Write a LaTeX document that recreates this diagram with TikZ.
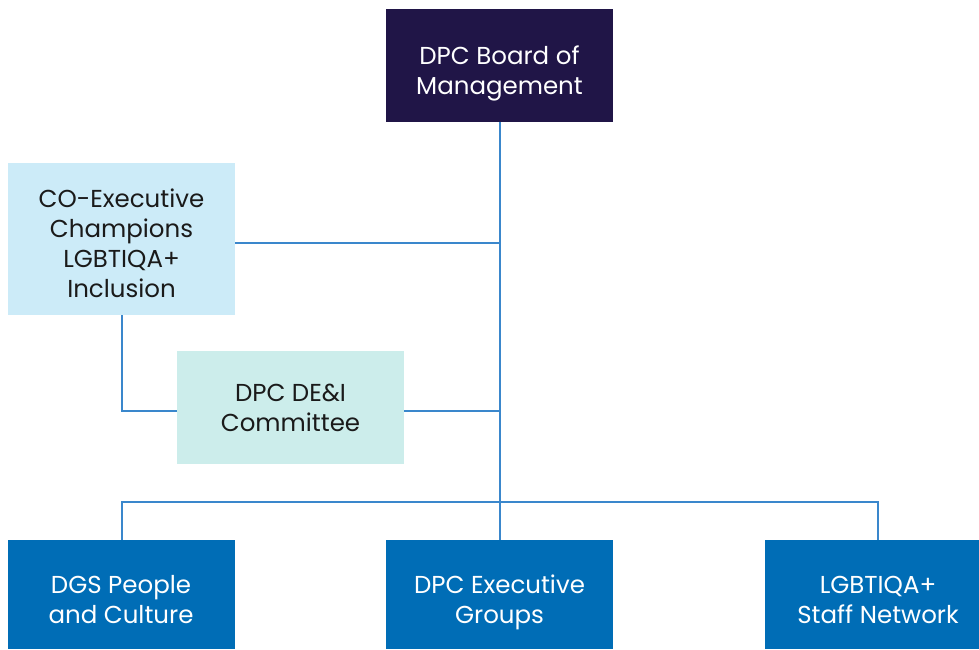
\documentclass[tikz,border=0pt]{standalone}
\usepackage{fontspec}
\setmainfont{Poppins}
\definecolor{navy}{HTML}{201547}
\definecolor{vicblue}{HTML}{006DB6}
\definecolor{skyfill}{HTML}{CCEBF8}
\definecolor{mintfill}{HTML}{CCEDEB}
\definecolor{linkblue}{HTML}{3A87CC}
\definecolor{ink}{HTML}{1A1A1A}
% invisible struts that fix how high a text block sits in its box
\newcommand\headstrut[1]{\rule{0pt}{#1}}
\newcommand\footstrut[1]{\rule[-#1]{0pt}{#1}}
\begin{document}
\begin{tikzpicture}[x=1pt,y=-1pt,
  orgbox/.style={rectangle, inner sep=0pt, minimum width=227pt, align=center,
    font=\fontsize{24.5}{30}\selectfont},
  darkbox/.style={orgbox, fill=navy, text=white},
  bluebox/.style={orgbox, fill=vicblue, text=white},
  skybox/.style={orgbox, fill=skyfill, text=ink},
  mintbox/.style={orgbox, fill=mintfill, text=ink},
  link/.style={draw=linkblue, line width=1.3pt}]
\useasboundingbox (0,0) rectangle (979,649);
\clip (0,0) rectangle (979,649);

% junction points of the connector lines
\coordinate (busL) at (122,502);
\coordinate (busR) at (878,502);
\coordinate (busM) at (500,502);
\coordinate (champJ) at (500,243);
\coordinate (deiJ) at (500,411);
\coordinate (champDown) at (122,411);

% boxes
\node[darkbox, minimum height=113pt] (board) at (499.5,65.5)
  {\headstrut{35pt}DPC Board of\\Management\footstrut{8pt}};
\node[skybox, minimum height=152pt] (champ) at (121.5,239)
  {\headstrut{34pt}CO-Executive\\Champions\\LGBTIQA+\\Inclusion\footstrut{8pt}};
\node[mintbox, minimum height=113pt] (dei) at (290.5,407.5)
  {\headstrut{26pt}DPC DE\&I\\Committee\footstrut{9pt}};
\node[bluebox, minimum height=109pt] (dgs) at (121,594.5)
  {\headstrut{35pt}DGS People\\and Culture\footstrut{8pt}};
\node[bluebox, minimum height=109pt] (exec) at (499.5,594.5)
  {\headstrut{35pt}DPC Executive\\Groups\footstrut{8pt}};
\node[bluebox, minimum height=109pt] (staff) at (878,594.5)
  {\headstrut{35pt}LGBTIQA+\\Staff Network\footstrut{8pt}};

% connectors
\draw[link] (board.south -| busM) -- (exec.north -| busM);
\draw[link] (champ.east |- champJ) -- (champJ);
\draw[link] (dei.east |- deiJ) -- (deiJ);
\draw[link] (champ.south -| champDown) -- (champDown) -- (dei.west |- deiJ);
\draw[link] (dgs.north -| busL) -- (busL) -- (busR) -- (staff.north -| busR);
\end{tikzpicture}
\end{document}
